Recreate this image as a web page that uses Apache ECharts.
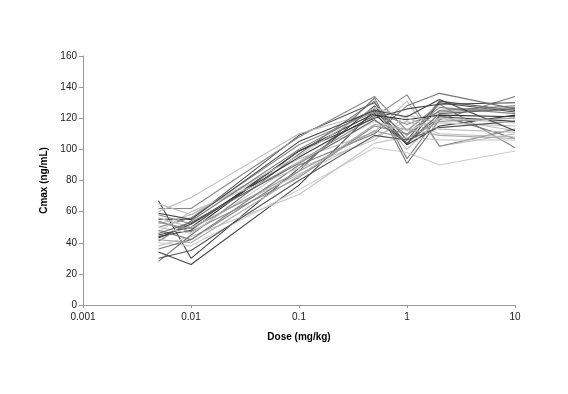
<!DOCTYPE html>
<html>
<head>
<meta charset="utf-8">
<script src="https://cdn.jsdelivr.net/npm/echarts@6/dist/echarts.min.js"></script>
<style>
  html, body { margin: 0; padding: 0; background: #fff; }
  #chart { width: 568px; height: 394px; }
</style>
</head>
<body>
<div id="chart"></div>
<script>
  // doses (mg/kg) and per-subject Cmax (ng/mL)
  const doses = [0.005, 0.01, 0.1, 0.5, 1, 2, 10];
  const xTickLabels = ["0.001", "0.01", "0.1", "1", "10"];

  const s01 = [67, 30, 88, 128, 103, 130, 124];
  const s02 = [34, 26, 77, 125, 104, 121, 118];
  const s03 = [55, 55, 109, 130, 106, 131, 125];
  const s04 = [62, 62, 108, 134, 112, 129, 101];
  const s05 = [60, 69, 110, 124, 100, 120, 112];
  const s06 = [44, 48, 99, 123, 103, 115, 122];
  const s07 = [48, 42, 86, 133, 94, 122, 107];
  const s08 = [52, 58, 94, 111, 131, 102, 110];
  const s09 = [58, 52, 92, 121, 135, 102, 113];
  const s10 = [40, 38, 74, 101, 98, 90, 99];
  const s11 = [38, 44, 71, 104, 108, 106, 106];
  const s12 = [28, 45, 97, 131, 91, 119, 134];
  const s13 = [45, 50, 99, 120, 126, 129, 130];
  const s14 = [50, 56, 103, 124, 116, 124, 127];
  const s15 = [56, 50, 84, 108, 118, 110, 108];
  const s16 = [36, 42, 90, 110, 128, 136, 126];
  const s17 = [43, 52, 95, 122, 119, 122, 121];
  const s18 = [47, 60, 88, 106, 122, 117, 115];
  const s19 = [54, 47, 82, 115, 110, 127, 123];
  const s20 = [30, 35, 80, 109, 106, 114, 118];
  const s21 = [65, 58, 96, 127, 120, 113, 111];
  const s22 = [41, 54, 100, 126, 109, 125, 128];
  const s23 = [50, 46, 92, 118, 112, 120, 117];
  const s24 = [59, 55, 105, 125, 121, 132, 112];
  const s25 = [53, 49, 86, 112, 107, 118, 120];
  const s26 = [46, 53, 91, 119, 104, 123, 126];
  const s27 = [42, 40, 83, 116, 113, 109, 107];

  const subjects = [s01, s02, s03, s04, s05, s06, s07, s08, s09, s10, s11, s12, s13, s14,
                    s15, s16, s17, s18, s19, s20, s21, s22, s23, s24, s25, s26, s27];
  const grays = ["#444", "#444", "#555", "#888", "#bbb", "#333", "#777", "#bbb", "#888",
                 "#ccc", "#c4c4c4", "#777", "#444", "#888", "#bbb", "#777", "#333", "#c0c0c0",
                 "#888", "#555", "#bbb", "#777", "#c8c8c8", "#444", "#999", "#666", "#aaa"];

  const chart = echarts.init(document.getElementById("chart"));
  const font = "Liberation Sans, Arial, sans-serif";

  chart.setOption({
    animation: false,
    grid: { left: 83, right: 53, top: 56, bottom: 89 },
    xAxis: {
      type: "log",
      logBase: 10,
      min: 0.001,
      max: 10,
      name: "Dose (mg/kg)",
      nameLocation: "middle",
      nameGap: 27,
      nameTextStyle: { fontFamily: font, fontSize: 10, fontWeight: "bold", color: "#000" },
      axisLine: { lineStyle: { color: "#999", width: 1 } },
      axisTick: { show: true, length: 3, lineStyle: { color: "#999" } },
      minorTick: { show: false },
      splitLine: { show: false },
      axisLabel: {
        fontFamily: font, fontSize: 10, color: "#222", margin: 7,
        formatter: (v, i) => xTickLabels[i]
      }
    },
    yAxis: {
      type: "value",
      min: 0,
      max: 160,
      interval: 20,
      name: "Cmax (ng/mL)",
      nameLocation: "middle",
      nameGap: 32,
      nameTextStyle: { fontFamily: font, fontSize: 10, fontWeight: "bold", color: "#000" },
      axisLine: { show: true, lineStyle: { color: "#999", width: 1 } },
      axisTick: { show: true, length: 4, lineStyle: { color: "#999" } },
      splitLine: { show: false },
      axisLabel: { fontFamily: font, fontSize: 10, color: "#222", margin: 6 }
    },
    series: subjects.map((vals, k) => ({
      type: "line",
      symbol: "none",
      silent: true,
      data: doses.map((d, i) => [d, vals[i]]),
      lineStyle: { width: 1.1, color: grays[k] }
    }))
  });
</script>
</body>
</html>
